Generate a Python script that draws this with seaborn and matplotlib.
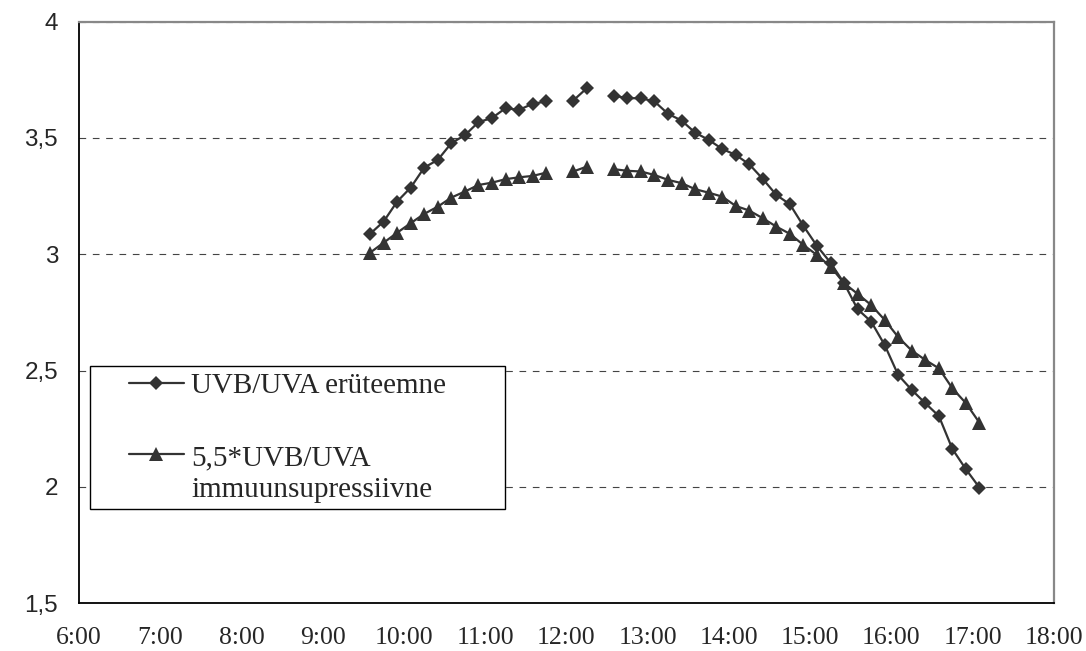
import numpy as np
import pandas as pd
import matplotlib
matplotlib.use("Agg")
import matplotlib.pyplot as plt
import seaborn as sns
from matplotlib.lines import Line2D
from matplotlib.legend_handler import HandlerLine2D
from matplotlib.ticker import FuncFormatter

# ---- data (10-minute steps, two missing readings) ----
times = [
    "9:35", "9:45", "9:55", "10:05", "10:15", "10:25", "10:35", "10:45",
    "10:55", "11:05", "11:15", "11:25", "11:35", "11:45", "11:55", "12:05",
    "12:15", "12:25", "12:35", "12:45", "12:55", "13:05", "13:15", "13:25",
    "13:35", "13:45", "13:55", "14:05", "14:15", "14:25", "14:35", "14:45",
    "14:55", "15:05", "15:15", "15:25", "15:35", "15:45", "15:55", "16:05",
    "16:15", "16:25", "16:35", "16:45", "16:55", "17:05",
]
erythema = [
    3.088, 3.141, 3.227, 3.287, 3.373, 3.406, 3.478, 3.512,
    3.568, 3.586, 3.628, 3.621, 3.647, 3.657, np.nan, 3.661,
    3.714, np.nan, 3.682, 3.671, 3.671, 3.657, 3.604, 3.575,
    3.523, 3.492, 3.453, 3.427, 3.387, 3.324, 3.255, 3.215,
    3.122, 3.036, 2.964, 2.876, 2.764, 2.711, 2.610, 2.481,
    2.417, 2.360, 2.305, 2.163, 2.076, 1.997,
]
immuno = [
    3.007, 3.050, 3.093, 3.134, 3.174, 3.205, 3.244, 3.270,
    3.298, 3.308, 3.323, 3.331, 3.337, 3.351, np.nan, 3.356,
    3.377, np.nan, 3.366, 3.359, 3.356, 3.341, 3.320, 3.306,
    3.280, 3.265, 3.248, 3.208, 3.188, 3.155, 3.119, 3.088,
    3.040, 2.997, 2.947, 2.876, 2.830, 2.782, 2.718, 2.644,
    2.586, 2.546, 2.510, 2.424, 2.360, 2.276,
]
labels = ["UVB/UVA erüteemne", "5,5*UVB/UVA\nimmuunsupressiivne"]
hour_ticks = list(range(6, 19))
y_ticks = [1.5, 2, 2.5, 3, 3.5, 4]

INK = "#333333"


def to_hours(t):
    h, m = t.split(":")
    return int(h) + int(m) / 60.0


def frame_for(values):
    d = pd.DataFrame({"hour": [to_hours(t) for t in times], "val": values})
    # gaps in the series split the line into separate segments
    d["seg"] = d["val"].isna().cumsum()
    return d.dropna()


sns.set_style("white")
plt.rcParams["font.family"] = ["Liberation Sans", "DejaVu Sans"]

fig = plt.figure(figsize=(10.86, 6.51), dpi=100)
ax = fig.add_axes([0.0727, 0.0733, 0.8978, 0.8934])

styles = [("D", 7.2), ("^", 10)]
for values, (mk, ms) in zip([erythema, immuno], styles):
    sns.lineplot(data=frame_for(values), x="hour", y="val", units="seg",
                 estimator=None, color=INK, lw=1.6, marker=mk, markersize=ms,
                 markeredgewidth=0, ax=ax, legend=False)

ax.set_xlim(6, 18)
ax.set_ylim(1.5, 4)
ax.set_xticks(hour_ticks)
ax.set_yticks(y_ticks)
ax.xaxis.set_major_formatter(FuncFormatter(lambda v, p: f"{int(round(v))}:00"))
ax.yaxis.set_major_formatter(
    FuncFormatter(lambda v, p: (f"{v:g}").replace(".", ",")))
ax.set_xlabel("")
ax.set_ylabel("")

ax.yaxis.grid(True, ls=(0, (6, 6)), color="#444444", lw=0.8)
ax.xaxis.grid(False)
ax.set_axisbelow(True)

for side in ["left", "bottom"]:
    ax.spines[side].set_color("black")
    ax.spines[side].set_linewidth(1.3)
for side in ["top", "right"]:
    ax.spines[side].set_visible(True)
    ax.spines[side].set_color("#888888")
    ax.spines[side].set_linewidth(1.6)

ax.tick_params(axis="y", direction="out", length=7, width=1, color="black",
               pad=8, labelsize=17.5)
ax.tick_params(axis="x", direction="out", length=5, width=1, color="black",
               pad=12, labelsize=18.5)
for lab in ax.get_xticklabels():
    lab.set_fontfamily("Liberation Serif")


class ShiftedHandle(HandlerLine2D):
    """Line+marker handle, indented and optionally lifted to the first text line."""

    def __init__(self, lead=0.0, lift=0.0, **kw):
        super().__init__(**kw)
        self.lead = lead
        self.lift = lift

    def create_artists(self, legend, orig_handle, xdescent, ydescent,
                       width, height, fontsize, trans):
        arts = super().create_artists(legend, orig_handle, xdescent, ydescent,
                                      width, height, fontsize, trans)
        lead = self.lead * fontsize
        for a in arts:
            x = np.asarray(a.get_xdata(), float)
            y = np.asarray(a.get_ydata(), float)
            a.set_xdata(lead + x * (width - lead) / width)
            a.set_ydata(y + self.lift * fontsize)
        return arts


handles = [
    Line2D([], [], color=INK, lw=1.6, marker="D", markersize=7.2, markeredgewidth=0),
    Line2D([], [], color=INK, lw=1.6, marker="^", markersize=10, markeredgewidth=0),
]
leg = ax.legend(
    handles, labels,
    loc="upper left", bbox_to_anchor=(0.0113, 0.0, 0.4256, 0.408),
    mode="expand", borderaxespad=0, borderpad=0.22,
    handlelength=3.0, handletextpad=0.25, labelspacing=1.58,
    frameon=True, fancybox=False, framealpha=1, edgecolor="black",
    prop={"family": "Liberation Serif", "size": 21},
    handler_map={handles[0]: ShiftedHandle(lead=1.12),
                 handles[1]: ShiftedHandle(lead=1.12, lift=0.68)},
)
for t in leg.get_texts():
    t.set_linespacing(1.3)
leg.get_frame().set_linewidth(1.0)

fig.savefig("out.png", dpi=100)
